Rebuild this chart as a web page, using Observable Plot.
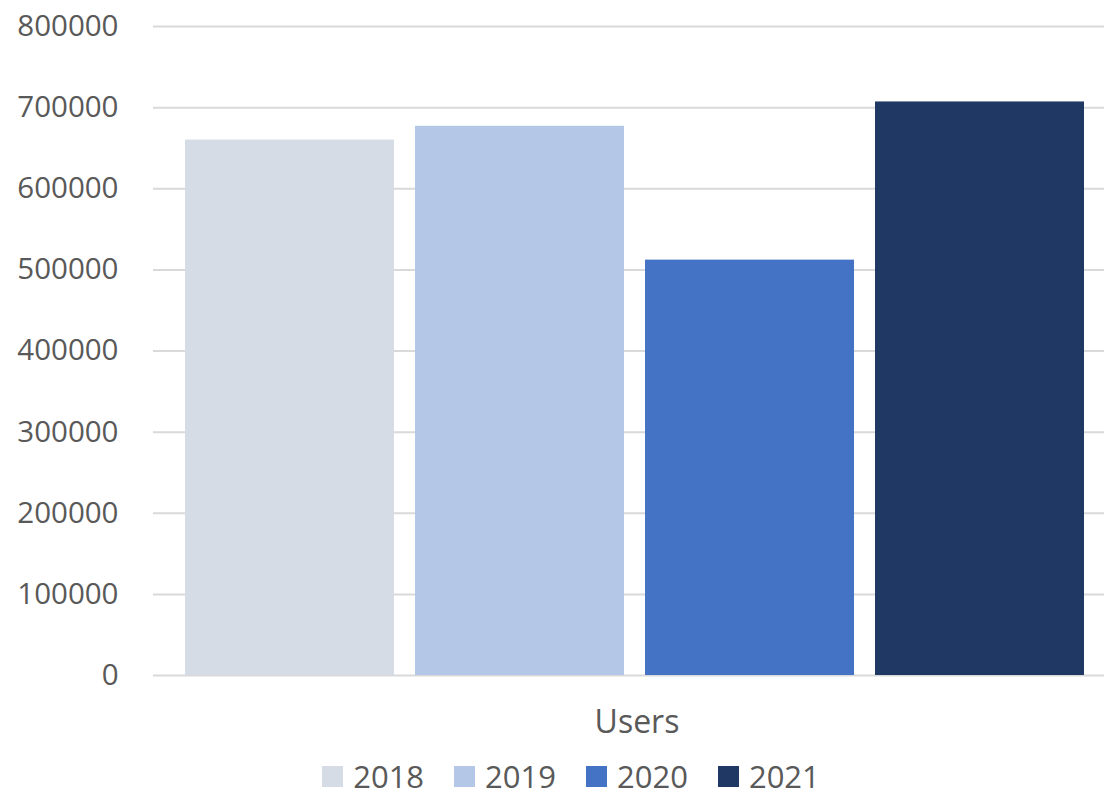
<!DOCTYPE html>
<html>
<head>
<meta charset="utf-8">
<script src="https://cdn.jsdelivr.net/npm/d3@7"></script>
<script src="https://cdn.jsdelivr.net/npm/@observablehq/plot@0.6"></script>
<style>
  body { margin: 0; background: #fff; font-family: "Open Sans", sans-serif; overflow: hidden; }
  #chart svg { display: block; }
  #legend { box-sizing: border-box; display: flex; justify-content: center; align-items: center; padding-left: 38px; padding-top: 16px; height: 54px; color: #595959; font-size: 31px; line-height: 1; }
  .item { display: flex; align-items: center; margin: 0 15px; }
  .sw { width: 21px; height: 21px; margin-right: 10px; }
</style>
</head>
<body>
<div id="chart"></div>
<div id="legend"></div>
<script>
const years = ["2018", "2019", "2020", "2021"];
const users = [660000, 677000, 512000, 707000];
const colors = ["#D6DCE5", "#B4C7E7", "#4472C4", "#203864"];
const yTicks = [0, 100000, 200000, 300000, 400000, 500000, 600000, 700000, 800000];
const category = "Users";

const data = years.map((y, i) => ({year: y, value: users[i]}));

const chart = Plot.plot({
  width: 1104,
  height: 741,
  marginLeft: 153,
  marginRight: 0,
  marginTop: 26,
  marginBottom: 66,
  style: {fontFamily: "Open Sans, sans-serif", fontSize: "29.5px", color: "#595959"},
  x: {domain: years, range: [184, 1086], paddingInner: 0.09, paddingOuter: 0, axis: null},
  y: {domain: [0, 800000], ticks: yTicks, tickFormat: d => String(d), tickSize: 0, tickPadding: 35, label: null, grid: false},
  color: {domain: years, range: colors},
  marks: [
    Plot.ruleY(yTicks, {stroke: "#D9D9D9", strokeWidth: 2, strokeOpacity: 1}),
    Plot.barY(data, {x: "year", y: "value", fill: "year"}),
    Plot.text([category], {frameAnchor: "bottom", dy: 57, dx: 8, text: d => d, fill: "#595959", fontSize: 32})
  ]
});
document.getElementById("chart").appendChild(chart);

const legend = document.getElementById("legend");
years.forEach((y, i) => {
  const it = document.createElement("div");
  it.className = "item";
  it.innerHTML = `<div class="sw" style="background:${colors[i]}"></div><span>${y}</span>`;
  legend.appendChild(it);
});
</script>
</body>
</html>
